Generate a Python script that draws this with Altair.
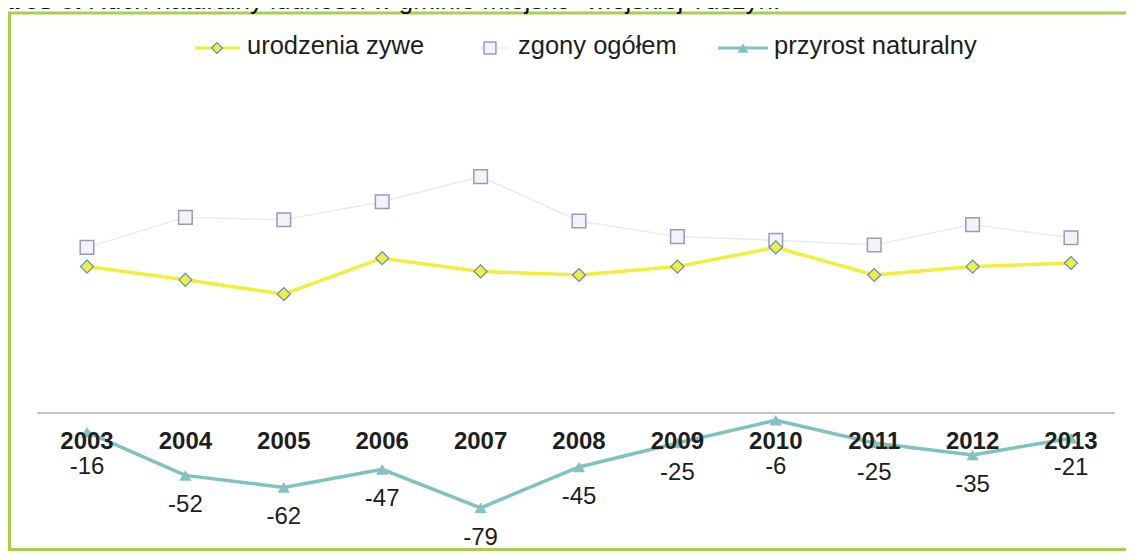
import altair as alt
import pandas as pd

years = [2003, 2004, 2005, 2006, 2007, 2008, 2009, 2010, 2011, 2012, 2013]
urodzenia = [122, 111, 99, 129, 118, 115, 122, 138, 115, 122, 125]
zgony = [138, 163, 161, 176, 197, 160, 147, 144, 140, 157, 146]
przyrost = [-16, -52, -62, -47, -79, -45, -25, -6, -25, -35, -21]

title_bold = "Wykres 8."
title_rest = "Ruch naturalny ludności w gminie miejsko- wiejskiej Tuszyn."
series_names = ["urodzenia zywe", "zgony ogółem", "przyrost naturalny"]

W, H = 1118, 544
FONT = "Liberation Sans"

df = pd.DataFrame({"rok": years, "urodzenia": urodzenia, "zgony": zgony, "przyrost": przyrost})

xs = alt.Scale(domain=[2003 - 79 / 98.4, 2003 + (W - 79) / 98.4], nice=False, zero=False)
ys = alt.Scale(domain=[-(H - 405) / 1.2, 405 / 1.2], nice=False, zero=False)
X = alt.X("rok:Q", scale=xs, axis=None)

base = alt.Chart(df)
one = alt.Chart(pd.DataFrame({"a": [0]}))

YELLOW = "#f1ee3c"
TEAL = "#7fc3bf"
TXT = "#1e1e1e"

border = one.mark_rect(fill=None, stroke="#a9cf4f", strokeWidth=3).encode(
    x=alt.value(1.5), x2=alt.value(W + 40), y=alt.value(5), y2=alt.value(541.5)
)

t1 = one.mark_text(text=title_bold, font=FONT, fontSize=26, fontWeight="bold", align="right",
                   baseline="alphabetic", color="#111").encode(x=alt.value(74), y=alt.value(1))
t2 = one.mark_text(text=title_rest, font=FONT, fontSize=26, align="left",
                   baseline="alphabetic", color="#111").encode(x=alt.value(80), y=alt.value(1))

z_line = base.mark_line(color="#ebebeb", strokeWidth=1.5).encode(x=X, y=alt.Y("zgony:Q", scale=ys, axis=None))
z_pts = base.mark_point(shape="square", size=185, filled=True, fill="#f2f2f8", stroke="#9a9ab8",
                        strokeWidth=1.5, opacity=1).encode(x=X, y=alt.Y("zgony:Q", scale=ys))

u_line = base.mark_line(color=YELLOW, strokeWidth=3.5).encode(x=X, y=alt.Y("urodzenia:Q", scale=ys))
u_pts = base.mark_point(shape="diamond", size=170, filled=True, fill="#eeee46", stroke="#5f8fb5",
                        strokeWidth=1.2, opacity=1).encode(x=X, y=alt.Y("urodzenia:Q", scale=ys))

axis_rule = one.mark_rule(color="#8a8a8a", strokeWidth=1.2).encode(
    x=alt.value(29), x2=alt.value(1107), y=alt.datum(0, scale=ys)
)

p_line = base.mark_line(color=TEAL, strokeWidth=3.5).encode(x=X, y=alt.Y("przyrost:Q", scale=ys))
p_pts = base.mark_point(shape="triangle-up", size=150, filled=True, fill="#86c0c3", opacity=1).encode(
    x=X, y=alt.Y("przyrost:Q", scale=ys)
)

year_lbl = base.mark_text(font=FONT, fontSize=24, fontWeight="bold", color=TXT,
                          baseline="alphabetic").encode(x=X, y=alt.value(441), text="rok:N")

val_lbl = base.transform_calculate(
    lab="min(datum.przyrost - 25, -45)",
    txt="'' + datum.przyrost",
).mark_text(font=FONT, fontSize=24, color=TXT, baseline="middle").encode(
    x=X, y=alt.Y("lab:Q", scale=ys), text="txt:N"
)

# legend
LY = 40
LF = 25.5
leg = [
    one.mark_rule(color=YELLOW, strokeWidth=3).encode(x=alt.value(187), x2=alt.value(232), y=alt.value(LY)),
    one.mark_point(shape="diamond", size=120, filled=True, fill="#eeee46", stroke="#5f8fb5",
                   strokeWidth=1.2, opacity=1).encode(x=alt.value(209), y=alt.value(LY)),
    one.mark_text(text=series_names[0], font=FONT, fontSize=LF, align="left", baseline="alphabetic",
                  color=TXT).encode(x=alt.value(239), y=alt.value(LY + 6)),
    one.mark_rule(color="#ebebeb", strokeWidth=1.5).encode(x=alt.value(472), x2=alt.value(500), y=alt.value(LY)),
    one.mark_point(shape="square", size=140, filled=True, fill="#f2f2f8", stroke="#9a9ab8",
                   strokeWidth=1.5, opacity=1).encode(x=alt.value(482), y=alt.value(LY)),
    one.mark_text(text=series_names[1], font=FONT, fontSize=LF, align="left", baseline="alphabetic",
                  color=TXT).encode(x=alt.value(510), y=alt.value(LY + 6)),
    one.mark_rule(color=TEAL, strokeWidth=3).encode(x=alt.value(710), x2=alt.value(760), y=alt.value(LY)),
    one.mark_point(shape="triangle-up", size=120, filled=True, fill="#86c0c3", opacity=1).encode(
        x=alt.value(735), y=alt.value(LY)),
    one.mark_text(text=series_names[2], font=FONT, fontSize=LF, align="left", baseline="alphabetic",
                  color=TXT).encode(x=alt.value(766), y=alt.value(LY + 6)),
]

chart = alt.layer(
    border, t1, t2, z_line, z_pts, u_line, u_pts, axis_rule, p_line, p_pts, year_lbl, val_lbl, *leg
).properties(
    width=W, height=H, autosize=alt.AutoSizeParams(type="none"), padding=0, background="white"
).configure_view(stroke=None)

chart.save("out.html", embed_options={"renderer": "svg", "actions": False})
